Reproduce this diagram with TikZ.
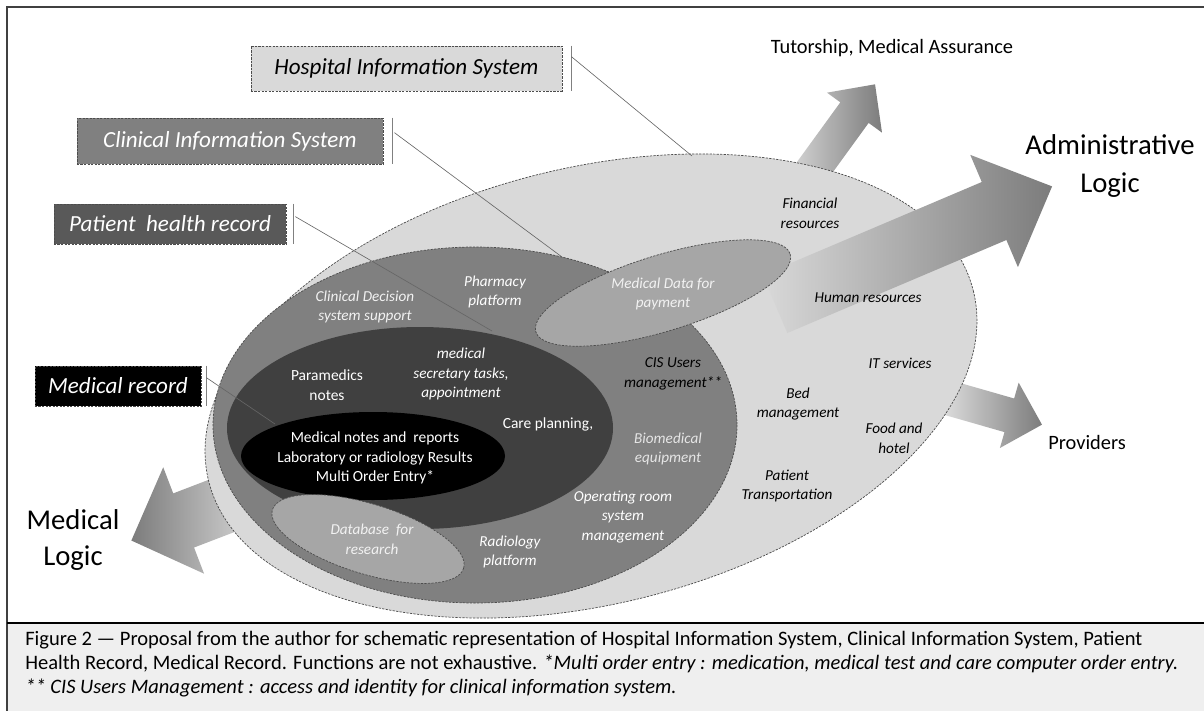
\documentclass[tikz,border=0pt]{standalone}
\usepackage{fontspec}
\setmainfont{Carlito}
\usetikzlibrary{calc}
\definecolor{hisfill}{HTML}{D9D9D9}
\definecolor{cisfill}{HTML}{808080}
\definecolor{phrfill}{HTML}{404040}
\definecolor{phrbox}{HTML}{595959}
\definecolor{payfill}{HTML}{A6A6A6}
\definecolor{capfill}{HTML}{EFEFEF}
\definecolor{softwhite}{HTML}{F2F2F2}
\definecolor{arrlight}{HTML}{E2E2E2}
\definecolor{arrdark}{HTML}{7C7C7C}
\tikzset{
  dashborder/.style={draw=black!70, dash pattern=on 1.6pt off 0.9pt, line width=0.5pt},
  labelbox/.style={dashborder, inner sep=0pt, font=\fontsize{16.4}{19}\selectfont\itshape},
  leader/.style={draw=black!60, line width=0.45pt},
  barline/.style={draw=black!50, line width=0.8pt},
  inlbl/.style={inner sep=0pt, align=center, font=\fontsize{10.8}{14}\selectfont\itshape},
  uplbl/.style={inner sep=0pt, align=center, font=\fontsize{11}{13.9}\selectfont},
  biglbl/.style={inner sep=0pt, align=center, font=\fontsize{20.4}{27.5}\selectfont},
  sidelbl/.style={inner sep=0pt, font=\fontsize{14.5}{17}\selectfont}
}
\begin{document}
\begin{tikzpicture}[x=0.025cm, y=-0.025cm]
\useasboundingbox (0,0) rectangle (1204,711);
% frame and caption area
\fill[capfill] (7,623) rectangle (1204,711);
\draw[black!75, line width=0.8pt] (1204,7) -- (7,7) -- (7,711);
\draw[black, line width=1.5pt] (7,623) -- (1204,623);
% arrows behind the ellipses
\foreach \bx/\by/\ang/\len/\sw/\hw/\hl/\cl/\cr in {791/200/54/143/17.5/34/35/arrlight/arrdark, 942/396/-16/104/17.5/34/34/arrlight/arrdark, 263/490/201/141/29/57/56/arrdark/arrlight}
  \shade[left color=\cl, right color=\cr, shift={(\bx,\by)}, rotate=\ang] (0,-\sw) -- (\len-\hl,-\sw) -- (\len-\hl,-\hw) -- (\len,0) -- (\len-\hl,\hw) -- (\len-\hl,\sw) -- (0,\sw) -- cycle;
% Hospital Information System
\draw[dashborder, fill=hisfill, rotate around={14:(591,386)}] (591,386) ellipse [x radius=394, y radius=218];
% administrative logic arrow
\shade[left color=hisfill, right color=arrdark, shift={(775,304)}, rotate=23] (0,-31.5) -- (238,-31.5) -- (238,-61) -- (301,0) -- (238,61) -- (238,31.5) -- (0,31.5) -- cycle;
% inner systems
\draw[dashborder, fill=cisfill] (475,425) ellipse [x radius=262, y radius=178];
\draw[draw=none, fill=phrfill] (420,428) ellipse [x radius=193, y radius=101];
\draw[draw=none, fill=black] (373,456) ellipse [x radius=132, y radius=44];
\draw[dashborder, fill=payfill, rotate around={-17:(368,539)}] (368,539) ellipse [x radius=100, y radius=35];
\draw[dashborder, fill=payfill, rotate around={17:(663,293)}] (663,293) ellipse [x radius=133, y radius=38];
% texts of the administrative ring
\node[inlbl] (fin) at (810,213) {Financial\\resources};
\node[inlbl] (hum) at (868,298) {Human resources};
\node[inlbl] (its) at (900,363) {IT services};
\node[inlbl] (bed) at (798,404) {Bed\\management};
\node[inlbl] (food) at (894,438) {Food and\\hotel};
\node[inlbl] (trans) at (787,486) {Patient\\Transportation};
% texts of the clinical ring
\node[inlbl, text=softwhite] (cds) at (365,307) {Clinical Decision\\system support};
\node[inlbl, text=white] (pharma) at (495,292) {Pharmacy\\platform};
\node[inlbl] (cisusr) at (673,374) {CIS Users\\management**};
\node[inlbl, text=black!10] (biomed) at (668,449) {Biomedical\\equipment};
\node[inlbl, text=white] (orsys) at (623,517) {Operating room\\system\\management};
\node[inlbl, text=white] (radio) at (510,552) {Radiology\\platform};
\node[inlbl, text=softwhite] (dbtxt) at (372,539) {Database~ for\\research};
\node[inlbl, text=softwhite] (paytxt) at (663,294) {Medical Data for\\payment};
% texts of the patient record
\node[uplbl, text=white] (para) at (327,385) {Paramedics\\notes};
\node[inlbl, text=white] (secr) at (461,374) {medical\\secretary tasks,\\appointment};
\node[uplbl, text=white] (care) at (548,424) {Care planning,};
\node[uplbl, text=white] (mrtxt) at (375,458) {Medical notes and~ reports\\Laboratory or radiology Results\\Multi Order Entry*};
% outside labels
\node[sidelbl] (tut) at (892,48) {Tutorship, Medical Assurance};
\node[biglbl] (adm) at (1110,166) {Administrative\\Logic};
\node[sidelbl, anchor=west] (prov) at (1048,442) {Providers};
\node[biglbl, font=\fontsize{20.4}{24.9}\selectfont] (medlog) at (73,540) {Medical\\Logic};
% label boxes
\node[labelbox, fill=hisfill, minimum width=7.775cm, minimum height=1.125cm] (hisbox) at (406.5,68.5) {Hospital Information System};
\node[labelbox, fill=cisfill, text=white, minimum width=7.65cm, minimum height=1.15cm] (cisbox) at (230,141) {Clinical Information System};
\node[labelbox, fill=phrbox, text=white, minimum width=5.8cm, minimum height=1cm] (phrbox) at (170,224) {Patient~ health record};
\node[labelbox, fill=black, text=white, minimum width=4.15cm, minimum height=1cm] (mrbox) at (118,386) {Medical record};
\draw[barline] ($(hisbox.north east)+(9,0)$) -- ($(hisbox.south east)+(9,0)$);
\draw[barline] ($(cisbox.north east)+(9,0)$) -- ($(cisbox.south east)+(9,0)$);
\draw[barline] ($(phrbox.north east)+(7,0)$) -- ($(phrbox.south east)+(7,0)$);
\draw[barline] ($(mrbox.north east)+(5,0)$) -- ($(mrbox.south east)+(5,0)$);
% leaders
\coordinate (hisbar) at ($(hisbox.north east)+(9,11)$);
\coordinate (cisbar) at ($(cisbox.north east)+(11,15)$);
\coordinate (phrbar) at ($(phrbox.north east)+(9,13)$);
\coordinate (mrbar) at ($(mrbox.north east)+(5,12)$);
\coordinate (histop) at (692,156);
\coordinate (cistop) at (562,257);
\coordinate (phrtop) at (492,331);
\coordinate (mrtop) at (275,424);
\draw[leader] (hisbar) -- (histop);
\draw[leader] (cisbar) -- (cistop);
\draw[leader] (phrbar) -- (phrtop);
\draw[leader] (mrbar) -- (mrtop);
% caption
\node[anchor=north west, inner sep=0pt, align=left, font=\fontsize{14.6}{17.07}\selectfont] (caption) at (25,631) {Figure 2 — Proposal from the author for schematic representation of Hospital Information System, Clinical Information System, Patient\\Health Record, Medical Record. Functions are not exhaustive. \textit{*Multi order entry : medication, medical test and care computer order entry.}\\\textit{** CIS Users Management : access and identity for clinical information system.}};
\end{tikzpicture}
\end{document}
